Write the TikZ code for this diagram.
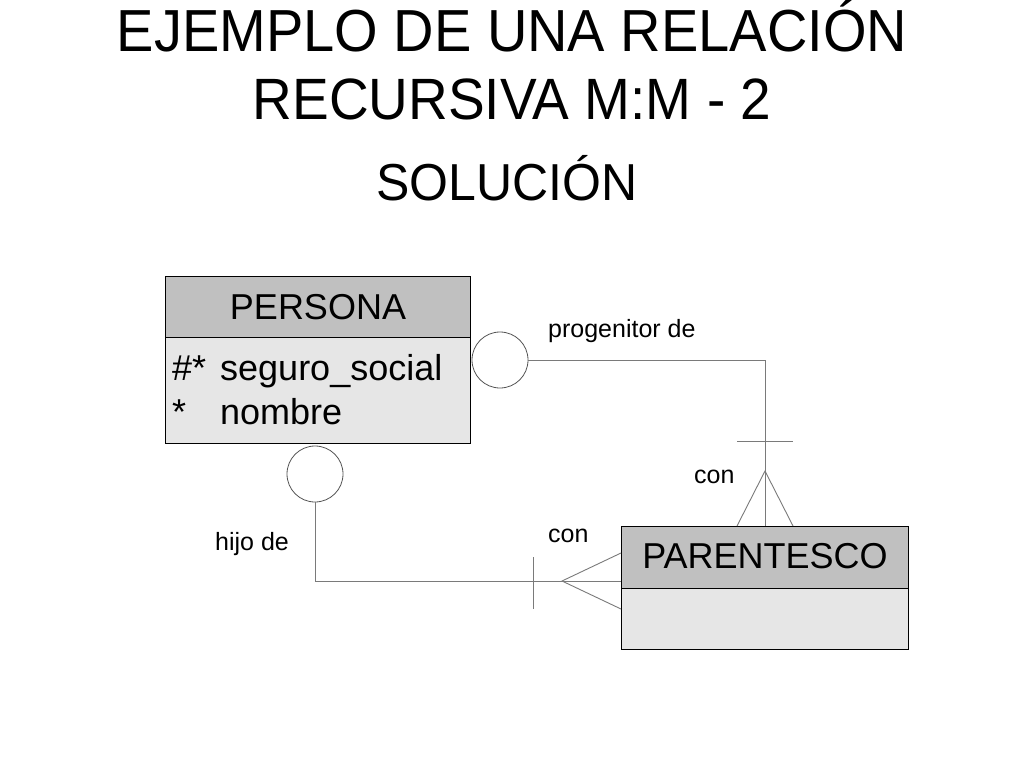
\documentclass[tikz,border=0pt]{standalone}
\usepackage{fontspec}
\setmainfont{Liberation Sans}
\begin{document}
\begin{tikzpicture}[x=1pt,y=-1pt,
  hdr/.style={draw=black,line width=1.3pt,fill=hdrgray,inner sep=0pt,anchor=north west},
  bdy/.style={draw=black,line width=1.3pt,fill=bdygray,inner sep=0pt,anchor=north west},
  optc/.style={circle,draw=circgray,line width=0.8pt,fill=white,minimum size=56pt,inner sep=0pt},
  rel/.style={draw=linegray,line width=0.9pt},
  lbl/.style={anchor=base west,inner sep=0pt,font=\fontsize{25}{30}\selectfont},
  attr/.style={anchor=base west,inner sep=0pt,font=\fontsize{36}{42}\selectfont},
  ttl/.style={anchor=base,inner sep=0pt}
]
\definecolor{hdrgray}{HTML}{C0C0C0}
\definecolor{bdygray}{HTML}{E6E6E6}
\definecolor{circgray}{HTML}{555555}
\definecolor{linegray}{HTML}{7A7A7A}
\useasboundingbox[fill=white] (0,0) rectangle (1024,768);

% title
\node[ttl,font=\fontsize{56}{60}\selectfont] (t1) at (512,52) {\scalebox{1}[1.06]{EJEMPLO DE UNA RELACIÓN}};
\node[ttl,font=\fontsize{55}{60}\selectfont] (t2) at (512,119) {\scalebox{1}[1.06]{RECURSIVA M:M - 2}};
\node[ttl,font=\fontsize{50}{56}\selectfont] (t3) at (507,200) {\scalebox{1}[1.04]{SOLUCIÓN}};

% PERSONA
\node[hdr,minimum width=305pt,minimum height=61pt] (ph) at (165,276) {};
\node[anchor=base,inner sep=0pt,font=\fontsize{36}{42}\selectfont] (phl) at (318,319) {PERSONA};
\node[bdy,minimum width=305pt,minimum height=106pt] (pb) at (165,337) {};
\node[attr] (a1k) at (172,380) {\#*};
\node[attr] (a1) at (220,380) {seguro\_social};
\node[attr] (a2k) at (172,424) {*};
\node[attr] (a2) at (220,424) {nombre};

% PARENTESCO
\node[hdr,minimum width=287pt,minimum height=62pt] (qh) at (621,526) {};
\node[anchor=base,inner sep=0pt,font=\fontsize{36}{42}\selectfont] (qhl) at (765,568) {PARENTESCO};
\node[bdy,minimum width=287pt,minimum height=61pt] (qb) at (621,588) {};

% optional circles
\node[optc] (c1) at (500,360) {};
\node[optc] (c2) at (315,474) {};

% relationship 1: progenitor de
\coordinate (b1) at (765,526);
\coordinate (ap1) at (765,471);
\coordinate (f1a) at (737,526);
\coordinate (f1b) at (793,526);
\coordinate (x1a) at (737,441);
\coordinate (x1b) at (793,441);
\draw[rel] (c1.east) -| (b1);
\draw[rel] (x1a) -- (x1b);
\draw[rel] (f1a) -- (ap1) -- (f1b);

% relationship 2: hijo de
\coordinate (b2) at (621,581);
\coordinate (ap2) at (562,581);
\coordinate (f2a) at (621,553);
\coordinate (f2b) at (621,609);
\coordinate (x2a) at (533,557);
\coordinate (x2b) at (533,609);
\draw[rel] (c2.south) |- (b2);
\draw[rel] (x2a) -- (x2b);
\draw[rel] (f2a) -- (ap2) -- (f2b);

% labels
\node[lbl] (l1) at (548,337) {progenitor de};
\node[lbl] (l2) at (694,483) {con};
\node[lbl] (l3) at (548,542) {con};
\node[lbl] (l4) at (215,550) {hijo de};
\end{tikzpicture}
\end{document}
